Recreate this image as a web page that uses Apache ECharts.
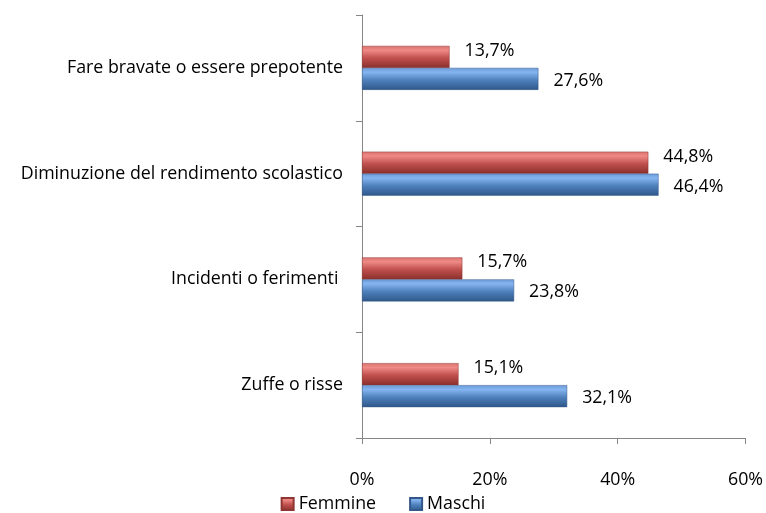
<!DOCTYPE html>
<html>
<head>
<meta charset="utf-8">
<script src="https://cdn.jsdelivr.net/npm/echarts@6/dist/echarts.min.js"></script>
<style>
  html, body { margin: 0; padding: 0; background: #fff; }
  #chart { width: 766px; height: 513px; }
</style>
</head>
<body>
<div id="chart"></div>
<script>
var categorie = ['Fare bravate o essere prepotente', 'Diminuzione del rendimento scolastico', 'Incidenti o ferimenti ', 'Zuffe o risse'];
var femmine = [13.7, 44.8, 15.7, 15.1];
var maschi = [27.6, 46.4, 23.8, 32.1];
var tickLabels = ['0%', '20%', '40%', '60%'];

var myChart = echarts.init(document.getElementById('chart'));

// barre "3D" come in Excel: riflesso in alto, scuro in basso
function grad(top, hi, mid, bottom) {
  return new echarts.graphic.LinearGradient(0, 0, 0, 1, [
    {offset: 0, color: top},
    {offset: 0.2, color: hi},
    {offset: 0.55, color: mid},
    {offset: 1, color: bottom}
  ]);
}

function fmt(p) {
  return p.value.toFixed(1).replace('.', ',') + '%';
}

var font = 'Open Sans';
var fs = 17.8;

myChart.setOption({
  animation: false,
  textStyle: {fontFamily: font},
  grid: {left: 362, right: 20, top: 15, bottom: 75, containLabel: false},
  legend: {
    bottom: 0,
    padding: 0,
    left: 'center',
    itemWidth: 12,
    itemHeight: 12,
    itemGap: 33,
    textStyle: {fontFamily: font, fontSize: fs, color: '#000'},
    data: [
      {name: 'Femmine', icon: 'rect'},
      {name: 'Maschi', icon: 'rect'}
    ]
  },
  xAxis: {
    type: 'value',
    min: 0,
    max: 60,
    interval: 20,
    axisLine: {show: true, lineStyle: {color: '#868686'}},
    axisTick: {show: true, length: 6, lineStyle: {color: '#868686'}},
    splitLine: {show: false},
    axisLabel: {
      margin: 33,
      fontSize: fs,
      color: '#000',
      fontFamily: font,
      formatter: function (v) { return tickLabels[v / 20]; }
    }
  },
  yAxis: {
    type: 'category',
    inverse: true,
    data: categorie,
    axisLine: {show: true, lineStyle: {color: '#868686'}},
    axisTick: {show: true, length: 6, lineStyle: {color: '#868686'}},
    axisLabel: {margin: 19, fontSize: fs, color: '#000', fontFamily: font}
  },
  series: [
    {
      name: 'Femmine',
      type: 'bar',
      data: femmine,
      barWidth: 22,
      barGap: '0%',
      itemStyle: {color: grad('#d9726f', '#ef8a87', '#c0504d', '#8a2f2c'), borderColor: '#8f3532', borderWidth: 0.5},
      label: {show: true, position: 'right', distance: 15, offset: [0, -6], fontSize: fs, color: '#000', fontFamily: font, formatter: fmt}
    },
    {
      name: 'Maschi',
      type: 'bar',
      data: maschi,
      barWidth: 22,
      barGap: '0%',
      itemStyle: {color: grad('#6b9ad8', '#85b5f0', '#4f81bd', '#2e5789'), borderColor: '#33588a', borderWidth: 0.5},
      label: {show: true, position: 'right', distance: 15, offset: [0, 2], fontSize: fs, color: '#000', fontFamily: font, formatter: fmt}
    }
  ]
});
</script>
</body>
</html>
